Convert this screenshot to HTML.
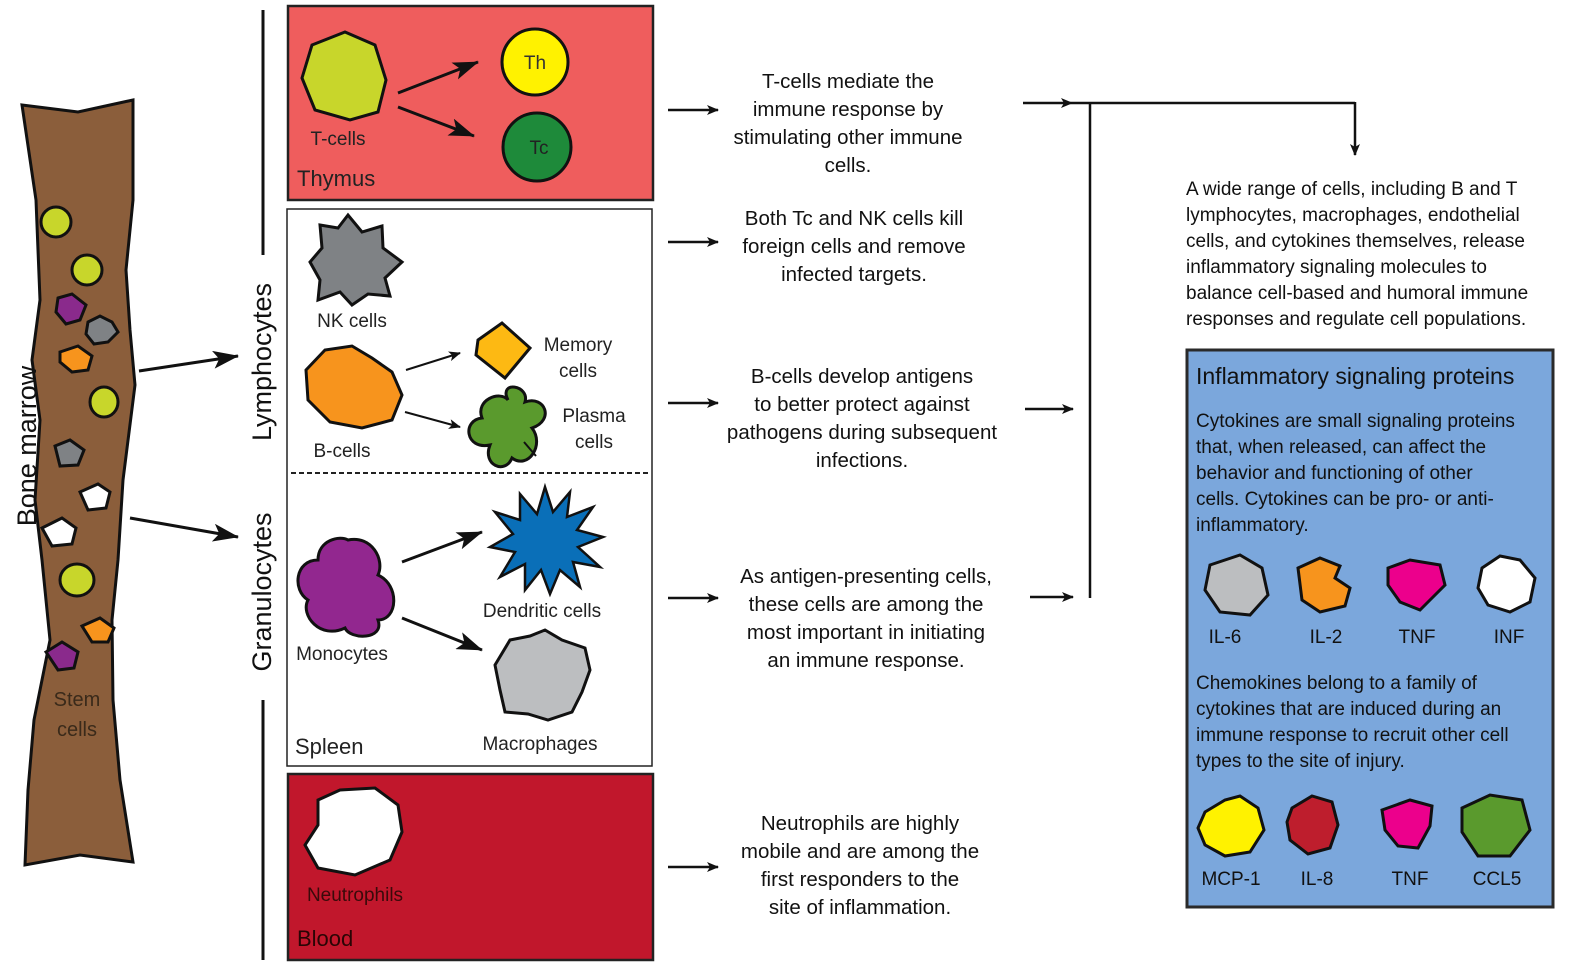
<!DOCTYPE html>
<html><head><meta charset="utf-8"><style>
html,body{margin:0;padding:0;background:#fff;}
svg{display:block;font-family:"Liberation Sans",sans-serif;}
</style></head><body>
<svg width="1585" height="976" viewBox="0 0 1585 976" xmlns="http://www.w3.org/2000/svg">
<defs>
<marker id="ah" markerWidth="12" markerHeight="10" refX="11" refY="5" orient="auto" markerUnits="userSpaceOnUse">
<path d="M0,0 L12,5 L0,10 L3,5 Z" fill="#111"/></marker>
<marker id="ahb" markerWidth="26" markerHeight="18" refX="25" refY="9" orient="auto" markerUnits="userSpaceOnUse">
<path d="M0,0 L26,9 L0,18 L6,9 Z" fill="#111"/></marker>
</defs>

<!-- bone -->
<path d="M22,105 L78,112 L133,100 L133,200 L126,270 L130,330 L135,385 L123,480 L118,560 L112,620 L113,700 L120,780 L133,862 L80,855 L25,865 L28,790 L34,720 L50,640 L42,560 L35,500 L40,420 L32,360 L40,300 L36,200 Z" fill="#8b5e3b" stroke="#111" stroke-width="3"/>
<g stroke="#111" stroke-width="3">
<ellipse cx="56" cy="222" rx="15" ry="15" fill="#c8d62b"/>
<ellipse cx="87" cy="270" rx="15" ry="15" fill="#c8d62b"/>
<path d="M58,298 L72,294 L86,305 L80,320 L66,324 L56,312 Z" fill="#8a2a8c"/>
<path d="M88,322 L100,316 L112,322 L118,332 L108,342 L94,344 L86,334 Z" fill="#7f8285"/>
<path d="M60,352 L78,346 L92,356 L88,370 L72,372 L60,362 Z" fill="#f7941d"/>
<ellipse cx="104" cy="402" rx="14" ry="15" fill="#c8d62b"/>
<path d="M55,446 L70,440 L84,450 L78,465 L60,466 Z" fill="#7f8285"/>
<path d="M80,492 L98,484 L110,492 L106,508 L88,510 Z" fill="#fff"/>
<path d="M42,528 L62,518 L76,528 L72,544 L52,546 Z" fill="#fff"/>
<ellipse cx="77" cy="580" rx="17" ry="16" fill="#c8d62b"/>
<path d="M82,626 L100,618 L114,628 L108,642 L92,642 Z" fill="#f7941d"/>
<path d="M46,652 L62,642 L78,652 L74,668 L58,670 Z" fill="#8a2a8c"/>
</g>
<text transform="translate(36,446) rotate(-90)" text-anchor="middle" font-size="27" fill="#111">Bone marrow</text>
<text x="77" y="706" text-anchor="middle" font-size="20" fill="#3a2a1a">Stem</text>
<text x="77" y="736" text-anchor="middle" font-size="20" fill="#3a2a1a">cells</text>
<line x1="139" y1="371" x2="238" y2="356" stroke="#111" stroke-width="3" marker-end="url(#ahb)"/>
<line x1="130" y1="518" x2="238" y2="537" stroke="#111" stroke-width="3" marker-end="url(#ahb)"/>

<!-- vertical bracket -->
<line x1="263" y1="10" x2="263" y2="255" stroke="#111" stroke-width="3"/>
<line x1="263" y1="700" x2="263" y2="960" stroke="#111" stroke-width="3"/>
<text transform="translate(271,362) rotate(-90)" text-anchor="middle" font-size="27" fill="#111">Lymphocytes</text>
<text transform="translate(271,592) rotate(-90)" text-anchor="middle" font-size="27" fill="#111">Granulocytes</text>

<!-- thymus -->
<rect x="288" y="6" width="365" height="194" fill="#ef5d5d" stroke="#222" stroke-width="2.5"/>
<path d="M312,45 L345,32 L375,45 L386,80 L378,112 L350,120 L315,110 L302,78 Z" fill="#c8d62b" stroke="#111" stroke-width="3"/>
<text x="338" y="145" text-anchor="middle" font-size="19" fill="#222">T-cells</text>
<text x="297" y="186" font-size="22" fill="#222">Thymus</text>
<circle cx="535" cy="62" r="33" fill="#fff200" stroke="#111" stroke-width="3"/>
<text x="535" y="69" text-anchor="middle" font-size="19" fill="#333">Th</text>
<circle cx="537" cy="147" r="34" fill="#1e8a3a" stroke="#111" stroke-width="3"/>
<text x="539" y="154" text-anchor="middle" font-size="19" fill="#222">Tc</text>
<line x1="398" y1="93" x2="478" y2="62" stroke="#111" stroke-width="3" marker-end="url(#ahb)"/>
<line x1="398" y1="107" x2="474" y2="136" stroke="#111" stroke-width="3" marker-end="url(#ahb)"/>

<!-- spleen -->
<rect x="287" y="209" width="365" height="557" fill="#fff" stroke="#222" stroke-width="1.5"/>
<line x1="291" y1="473" x2="648" y2="473" stroke="#222" stroke-width="2" stroke-dasharray="5,3"/>
<path d="M320,225 L338,228 L348,215 L362,232 L382,226 L383,248 L402,262 L385,278 L390,296 L368,294 L352,305 L340,292 L318,300 L320,280 L310,262 L322,248 Z" fill="#7f8285" stroke="#111" stroke-width="3"/>
<text x="352" y="327" text-anchor="middle" font-size="19" fill="#222">NK cells</text>
<path d="M306,370 L325,350 L352,346 L372,358 L392,372 L402,395 L392,420 L362,428 L330,422 L308,400 Z" fill="#f7941d" stroke="#111" stroke-width="3"/>
<text x="342" y="457" text-anchor="middle" font-size="19" fill="#222">B-cells</text>
<path d="M478,340 L502,323 L530,348 L505,378 L476,355 Z" fill="#fdb913" stroke="#111" stroke-width="3"/>
<text x="578" y="351" text-anchor="middle" font-size="19" fill="#222">Memory</text>
<text x="578" y="377" text-anchor="middle" font-size="19" fill="#222">cells</text>
<path d="M508,400 C498,380 530,385 525,402 C545,395 555,420 532,428 C545,445 528,470 512,458 C505,475 482,465 490,445 C465,450 462,420 482,418 C475,400 500,390 508,400 Z" fill="#5a9a2d" stroke="#111" stroke-width="3"/>
<line x1="524" y1="442" x2="536" y2="456" stroke="#111" stroke-width="2"/>
<text x="594" y="422" text-anchor="middle" font-size="19" fill="#222">Plasma</text>
<text x="594" y="448" text-anchor="middle" font-size="19" fill="#222">cells</text>
<line x1="406" y1="370" x2="460" y2="353" stroke="#111" stroke-width="2" marker-end="url(#ah)"/>
<line x1="405" y1="412" x2="460" y2="427" stroke="#111" stroke-width="2" marker-end="url(#ah)"/>

<path d="M348,540 C372,535 385,560 378,575 C400,585 398,620 378,620 C385,640 350,640 345,628 C320,640 300,615 308,600 C292,590 295,560 318,560 C318,540 340,535 348,540 Z" fill="#92278f" stroke="#111" stroke-width="3"/>
<text x="342" y="660" text-anchor="middle" font-size="19" fill="#222">Monocytes</text>
<g transform="translate(545,542)">
<path d="M0,-55 L8,-30 L25,-50 L22,-25 L48,-35 L32,-12 L58,-5 L33,5 L55,25 L28,20 L35,45 L15,28 L5,52 L-4,28 L-20,48 L-20,22 L-45,35 L-30,10 L-55,5 L-32,-8 L-50,-30 L-25,-22 L-25,-48 L-8,-28 Z" fill="#0a6fb8" stroke="#111" stroke-width="2.5"/></g>
<text x="542" y="617" text-anchor="middle" font-size="19" fill="#222">Dendritic cells</text>
<path d="M510,640 L530,636 L545,630 L562,640 L585,648 L590,670 L582,692 L572,712 L548,720 L528,714 L505,712 L500,690 L495,665 Z" fill="#bcbec0" stroke="#111" stroke-width="3"/>
<text x="540" y="750" text-anchor="middle" font-size="19" fill="#222">Macrophages</text>
<line x1="402" y1="562" x2="482" y2="532" stroke="#111" stroke-width="3" marker-end="url(#ahb)"/>
<line x1="402" y1="618" x2="482" y2="650" stroke="#111" stroke-width="3" marker-end="url(#ahb)"/>
<text x="295" y="754" font-size="22" fill="#222">Spleen</text>

<!-- blood -->
<rect x="288" y="774" width="365" height="186" fill="#c1172c" stroke="#222" stroke-width="2.5"/>
<path d="M318,800 L340,790 L375,788 L398,805 L402,832 L390,860 L355,875 L318,868 L305,845 L318,825 Z" fill="#fff" stroke="#111" stroke-width="3"/>
<text x="355" y="901" text-anchor="middle" font-size="19" fill="#3a0a0a">Neutrophils</text>
<text x="297" y="946" font-size="22" fill="#2a0505">Blood</text>

<!-- middle text -->
<g font-size="20.5" fill="#111" text-anchor="middle">
<text x="848" y="88">T-cells mediate the</text>
<text x="848" y="116">immune response by</text>
<text x="848" y="144">stimulating other immune</text>
<text x="848" y="172">cells.</text>
<text x="854" y="225">Both Tc and NK cells kill</text>
<text x="854" y="253">foreign cells and remove</text>
<text x="854" y="281">infected targets.</text>
<text x="862" y="383">B-cells develop antigens</text>
<text x="862" y="411">to better protect against</text>
<text x="862" y="439">pathogens during subsequent</text>
<text x="862" y="467">infections.</text>
<text x="866" y="583">As antigen-presenting cells,</text>
<text x="866" y="611">these cells are among the</text>
<text x="866" y="639">most important in initiating</text>
<text x="866" y="667">an immune response.</text>
<text x="860" y="830">Neutrophils are highly</text>
<text x="860" y="858">mobile and are among the</text>
<text x="860" y="886">first responders to the</text>
<text x="860" y="914">site of inflammation.</text>
</g>
<g stroke="#111" stroke-width="2.5">
<line x1="668" y1="110" x2="718" y2="110" marker-end="url(#ah)"/>
<line x1="668" y1="242" x2="718" y2="242" marker-end="url(#ah)"/>
<line x1="668" y1="403" x2="718" y2="403" marker-end="url(#ah)"/>
<line x1="668" y1="598" x2="718" y2="598" marker-end="url(#ah)"/>
<line x1="668" y1="867" x2="718" y2="867" marker-end="url(#ah)"/>
<line x1="1023" y1="103" x2="1072" y2="103" marker-end="url(#ah)"/>
<line x1="1072" y1="103" x2="1355" y2="103"/>
<line x1="1355" y1="102" x2="1355" y2="155" marker-end="url(#ah)"/>
<line x1="1090" y1="103" x2="1090" y2="598"/>
<line x1="1025" y1="409" x2="1073" y2="409" marker-end="url(#ah)"/>
<line x1="1030" y1="597" x2="1073" y2="597" marker-end="url(#ah)"/>
</g>

<!-- right -->
<g font-size="19" fill="#111">
<text x="1186" y="195">A wide range of cells, including B and T</text>
<text x="1186" y="221">lymphocytes, macrophages, endothelial</text>
<text x="1186" y="247">cells, and cytokines themselves, release</text>
<text x="1186" y="273">inflammatory signaling molecules to</text>
<text x="1186" y="299">balance cell-based and humoral immune</text>
<text x="1186" y="325">responses and regulate cell populations.</text>
</g>
<rect x="1187" y="350" width="366" height="557" fill="#7ba7dc" stroke="#2a2a2a" stroke-width="3"/>
<text x="1196" y="384" font-size="23" fill="#111">Inflammatory signaling proteins</text>
<g font-size="19" fill="#111">
<text x="1196" y="427">Cytokines are small signaling proteins</text>
<text x="1196" y="453">that, when released, can affect the</text>
<text x="1196" y="479">behavior and functioning of other</text>
<text x="1196" y="505">cells.  Cytokines can be pro- or anti-</text>
<text x="1196" y="531">inflammatory.</text>
<text x="1196" y="689">Chemokines belong to a family of</text>
<text x="1196" y="715">cytokines that are induced during an</text>
<text x="1196" y="741">immune response to recruit other cell</text>
<text x="1196" y="767">types to the site of injury.</text>
</g>
<g stroke="#111" stroke-width="3">
<path d="M1210,565 L1240,555 L1262,568 L1268,595 L1250,615 L1220,612 L1205,590 Z" fill="#bcbec0"/>
<path d="M1298,568 L1320,558 L1340,566 L1335,578 L1350,588 L1345,606 L1320,612 L1302,600 Z" fill="#f7941d"/>
<path d="M1388,568 L1410,560 L1440,565 L1445,585 L1430,600 L1420,610 L1400,602 L1388,585 Z" fill="#ec008c"/>
<path d="M1482,568 L1500,556 L1520,560 L1535,578 L1530,602 L1510,612 L1488,605 L1478,588 Z" fill="#fff"/>
<path d="M1205,812 L1225,800 L1240,796 L1258,808 L1264,830 L1250,852 L1225,856 L1205,845 L1198,828 Z" fill="#fff200"/>
<path d="M1292,808 L1312,796 L1332,802 L1338,825 L1330,848 L1308,854 L1290,840 L1287,822 Z" fill="#be1e2d"/>
<path d="M1382,810 L1410,800 L1432,806 L1430,826 L1418,848 L1398,846 L1385,830 Z" fill="#ec008c"/>
<path d="M1462,808 L1490,795 L1522,800 L1530,830 L1510,856 L1478,856 L1462,832 Z" fill="#5a9a2d"/>
</g>
<g font-size="19" fill="#111" text-anchor="middle">
<text x="1225" y="643">IL-6</text>
<text x="1326" y="643">IL-2</text>
<text x="1417" y="643">TNF</text>
<text x="1509" y="643">INF</text>
<text x="1231" y="885">MCP-1</text>
<text x="1317" y="885">IL-8</text>
<text x="1410" y="885">TNF</text>
<text x="1497" y="885">CCL5</text>
</g>
</svg>
</body></html>
